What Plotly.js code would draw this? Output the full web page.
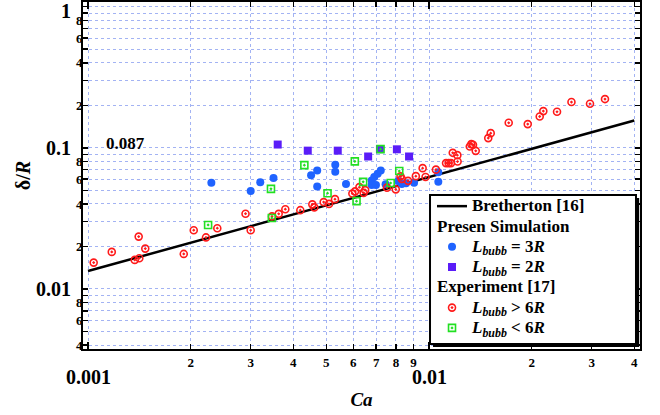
<!DOCTYPE html>
<html><head><meta charset="utf-8">
<script src="https://cdn.plot.ly/plotly-3.0.1.min.js"></script>
<style>html,body{margin:0;padding:0;background:#fff}#chart{width:660px;height:415px}</style>
</head><body><div id="chart"></div>
<script>
// Bretherton [16] theory line (end points)
const caTheory = [0.001, 0.04];
const dTheory = [0.0134, 0.156];
// Present simulation, L_bubb = 3R
const caBlue = [0.00230,0.00300,0.00320,0.00350,0.00451,0.00470,0.00470,0.00531,0.00531,0.00571,0.00679,0.00691,0.00707,0.00722,0.00679,0.00699,0.00746,0.00813,0.00832,0.00856,0.00904,0.01065,0.01065];
const dBlue = [0.0565,0.0495,0.0571,0.0610,0.0638,0.0690,0.0533,0.0758,0.0676,0.0555,0.0586,0.0620,0.0654,0.0690,0.0546,0.0546,0.0553,0.0583,0.0555,0.0562,0.0565,0.0670,0.0574];
// Present simulation, L_bubb = 2R
const caPurple = [0.00360,0.00441,0.00540,0.00663,0.00718,0.00805,0.00874];
const dPurple = [0.1055,0.0955,0.0955,0.0868,0.0979,0.0976,0.0868];
// Experiment [17], L_bubb > 6R
const caRed = [0.001039,0.001174,0.001371,0.001414,0.001408,0.001472,0.001909,0.002042,0.002218,0.002394,0.002897,0.003000,0.003464,0.003624,0.00379,0.004194,0.004548,0.00461,0.00491,0.00509,0.0053,0.00596,0.00607,0.00625,0.00643,0.0065,0.00753,0.00799,0.00825,0.00832,0.00868,0.00915,0.00958,0.00977,0.01048,0.01122,0.01142,0.0116,0.01174,0.01213,0.01211,0.01317,0.01331,0.01346,0.01371,0.01492,0.01517,0.01713,0.01948,0.02112,0.02164,0.02374,0.02617,0.02966,0.03282];
const dRed = [0.01537,0.01830,0.01606,0.01651,0.02349,0.01932,0.01771,0.02608,0.02318,0.02694,0.03415,0.02608,0.03267,0.03404,0.03675,0.03616,0.03975,0.03784,0.04126,0.04007,0.04328,0.04740,0.04914,0.05264,0.04795,0.05012,0.05221,0.05078,0.06279,0.06027,0.05834,0.06300,0.07178,0.06207,0.07003,0.07791,0.07791,0.07791,0.09216,0.07994,0.08876,0.1021,0.1062,0.1050,0.0952,0.1172,0.1271,0.1504,0.1473,0.1667,0.1821,0.1800,0.2110,0.2051,0.2215];
// Experiment [17], L_bubb < 6R
const caGreen = [0.00225,0.00344,0.00346,0.00431,0.00504,0.00606,0.00613,0.00641,0.00721,0.00772,0.00818];
const dGreen = [0.0284,0.0512,0.0318,0.0754,0.0477,0.0802,0.0419,0.0574,0.0979,0.0563,0.0685];
// reference level
const refLevel = 0.087;
const refLabel = '0.087';
// ticks (labelled ones are major, the rest minor)
const xTickVals = [0.002,0.003,0.004,0.005,0.006,0.007,0.008,0.009,0.02,0.03,0.04];
const xTickText = ['2','3','4','5','6','7','8','9','2','3','4'];
const xMinorVals = [0.001,0.01];
const xDecadeVals = [0.001, 0.01];
const xDecadeText = ['0.001','0.01'];
const yTickVals = [0.004,0.006,0.008,0.02,0.04,0.06,0.08,0.2,0.4,0.6,0.8];
const yTickText = ['4','6','8','2','4','6','8','2','4','6','8'];
const yMinorVals = [0.005,0.007,0.009,0.01,0.03,0.05,0.07,0.09,0.1,0.3,0.5,0.7,0.9,1];
const yDecadeVals = [0.01, 0.1, 1];
const yDecadeText = ['0.01','0.1','1'];
// legend texts
const legNames = ['Bretherton [16]', '<i>L<sub>bubb</sub></i> = 3<i>R</i>', '<i>L<sub>bubb</sub></i> = 2<i>R</i>',
                  '<i>L<sub>bubb</sub></i> > 6<i>R</i>', '<i>L<sub>bubb</sub></i> < 6<i>R</i>'];
const legGroupTitles = ['Presen Simulation', 'Experiment [17]'];

const FONT = 'Liberation Serif, Times New Roman, serif';
const gridC = '#a3b3f3';
const big = s => '<span style="font-size:17px">' + s + '</span>';
const gtFont = {family: FONT, size: 13.3, color: '#000', weight: 'bold'};

const traces = [
  {x: caTheory, y: dTheory, mode: 'lines', name: big(legNames[0]), legendgroup: 'th', legendrank: 1,
   line: {color: '#000', width: 2.5}},
  {x: caBlue, y: dBlue, mode: 'markers', name: big(legNames[1]), legendgroup: 'sim', legendrank: 2,
   legendgrouptitle: {text: big(legGroupTitles[0]), font: gtFont},
   marker: {symbol: 'circle', size: 8, color: '#1f63ff'}},
  {x: caPurple, y: dPurple, mode: 'markers', name: big(legNames[2]), legendgroup: 'sim', legendrank: 3,
   marker: {symbol: 'square', size: 8, color: '#5a1cf8'}},
  {x: caRed, y: dRed, mode: 'markers', name: big(legNames[3]), legendgroup: 'exp', legendrank: 4,
   legendgrouptitle: {text: big(legGroupTitles[1]), font: gtFont},
   marker: {symbol: 'circle-open-dot', size: 7, color: '#ff1a1a', line: {width: 1.6}}},
  {x: caGreen, y: dGreen, mode: 'markers', name: big(legNames[4]), legendgroup: 'exp', legendrank: 5,
   marker: {symbol: 'square-open-dot', size: 7, color: '#22e022', line: {width: 1.6}}}
];

const annotations = [];
xDecadeVals.forEach((v, i) => annotations.push({
  xref: 'x', yref: 'paper', x: Math.log10(v), y: 0, yanchor: 'middle', xanchor: 'center', yshift: -28,
  text: xDecadeText[i], showarrow: false, font: {family: FONT, size: 20, color: '#000', weight: 'bold'}}));
yDecadeVals.forEach((v, i) => annotations.push({
  xref: 'paper', yref: 'y', x: 0, y: Math.log10(v), xanchor: 'right', yanchor: 'middle', xshift: -10,
  yshift: v === 1 ? -4 : 0,
  text: yDecadeText[i], showarrow: false, font: {family: FONT, size: 20, color: '#000', weight: 'bold'}}));
annotations.push({xref: 'paper', yref: 'y', x: 0.077, y: Math.log10(refLevel), xanchor: 'center', yanchor: 'bottom', yshift: 1,
  text: refLabel, showarrow: false, font: {family: FONT, size: 17, color: '#000', weight: 'bold'}});

const axisCommon = {
  type: 'log', tickmode: 'array', ticks: 'inside', ticklen: 5, tickwidth: 1.5, tickcolor: '#000',
  showline: true, linecolor: '#000', linewidth: 2, mirror: 'ticks',
  showgrid: true, gridcolor: gridC, griddash: 'dot', gridwidth: 1, zeroline: false,
  tickfont: {family: FONT, size: 13, color: '#000', weight: 'bold'}
};

const layout = {
  width: 660, height: 415,
  margin: {l: 83, r: 20, t: 2, b: 66},
  paper_bgcolor: '#fff', plot_bgcolor: '#fff',
  font: {family: FONT, size: 13, color: '#000', weight: 'bold'},
  showlegend: true,
  legend: {x: 0.6266, y: 0.0144, xanchor: 'left', yanchor: 'bottom', bgcolor: 'rgba(0,0,0,0)', borderwidth: 0,
    font: {family: FONT, size: 13.3, color: '#000', weight: 'bold'}, traceorder: 'grouped', tracegroupgap: 0},
  xaxis: Object.assign({}, axisCommon, {range: [-3.0147, -1.3812], tickvals: xTickVals, ticktext: xTickText,
    ticklabelstandoff: 0,
    minor: {tickmode: 'array', tickvals: xMinorVals, ticks: 'inside', ticklen: 7, tickwidth: 1.5, tickcolor: '#000',
      showgrid: true, gridcolor: gridC, griddash: 'dot', gridwidth: 1},
    title: {text: '<i>Ca</i>', font: {family: FONT, size: 19, color: '#000', weight: 'bold'}, standoff: 24}}),
  yaxis: Object.assign({}, axisCommon, {range: [-2.4255, 0.0333], tickvals: yTickVals, ticktext: yTickText,
    ticklabelstandoff: -4,
    minor: {tickmode: 'array', tickvals: yMinorVals, ticks: 'inside', ticklen: 5, tickwidth: 1.5, tickcolor: '#000',
      showgrid: true, gridcolor: gridC, griddash: 'dot', gridwidth: 1},
    title: {text: 'δ/<i>R</i>', font: {family: FONT, size: 20, color: '#000', weight: 'bold'}, standoff: 40}}),
  shapes: [
    {type: 'line', xref: 'paper', yref: 'y', x0: 0, x1: 1, y0: Math.log10(refLevel), y1: Math.log10(refLevel),
     line: {color: '#3a6cf2', width: 2}, layer: 'below'},
    // legend box shadow and frame
    {type: 'rect', xref: 'paper', yref: 'paper', x0: 0.6284, x1: 0.9985, y0: 0.0058, y1: 0.435,
     fillcolor: '#000', line: {width: 0}, layer: 'above'},
    {type: 'rect', xref: 'paper', yref: 'paper', x0: 0.623, x1: 0.9928, y0: 0.0144, y1: 0.4438,
     fillcolor: '#fff', line: {color: '#000', width: 2}, layer: 'above'}
  ],
  annotations: annotations
};

Plotly.newPlot('chart', traces, layout, {displayModeBar: false, staticPlot: true});
</script>
</body></html>
